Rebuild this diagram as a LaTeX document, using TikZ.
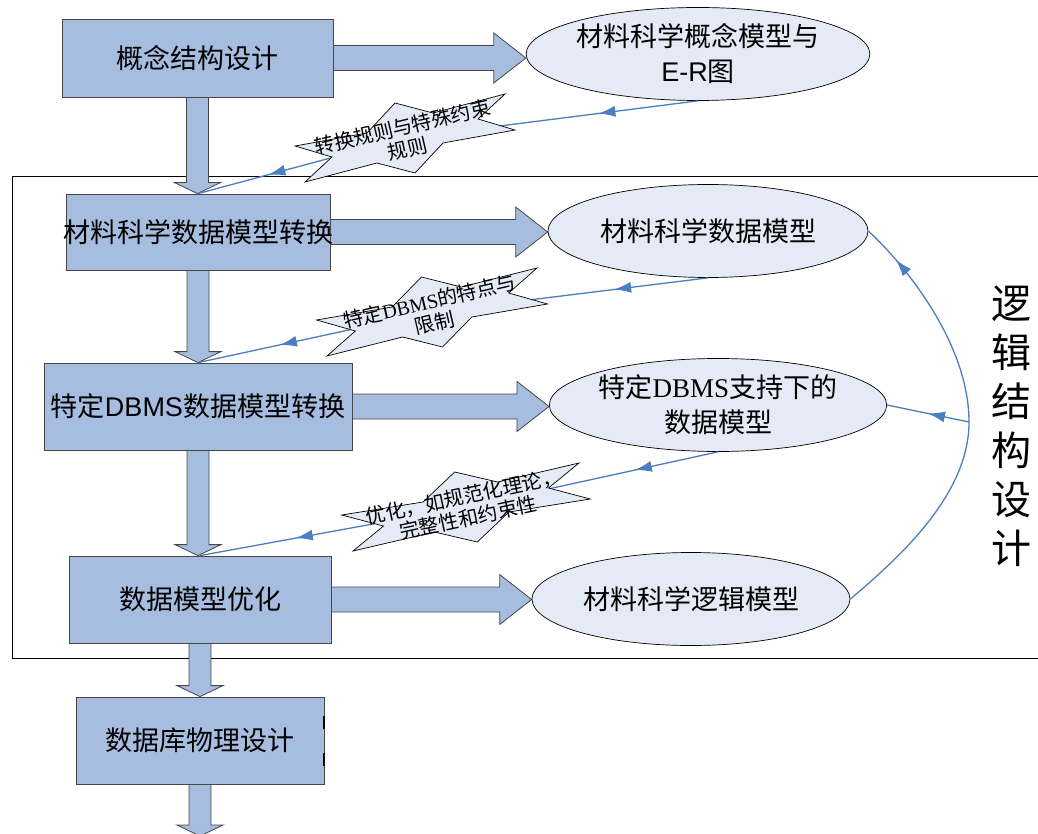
\documentclass[tikz,border=0pt]{standalone}
\usepackage{fontspec}
\setmainfont{Noto Sans CJK SC}
\newfontfamily\arialfont{Liberation Sans}
\newfontfamily\romanfont{Liberation Serif}
\usetikzlibrary{shapes.geometric, arrows.meta, calc, backgrounds, decorations.markings}
\definecolor{blockblue}{RGB}{167, 189, 224}
\definecolor{blockline}{RGB}{70, 70, 70}
\definecolor{paleblue}{RGB}{228, 235, 246}
\definecolor{linkblue}{RGB}{74, 126, 193}

% fat arrows between the design steps
\newcommand{\rightblock}[2]{%
  \draw[blockarrow] let \p1=#1, \p2=#2 in
    (\x1-2pt,\y1+12.5pt) -- (\x2-32pt,\y1+12.5pt) -- (\x2-32pt,\y1+25pt) -- (\x2,\y1)
    -- (\x2-32pt,\y1-25pt) -- (\x2-32pt,\y1-12.5pt) -- (\x1-2pt,\y1-12.5pt) -- cycle;}
\newcommand{\downblock}[2]{%
  \draw[blockarrow] let \p1=#1, \p2=#2 in
    (\x1-11pt,\y1+2pt) -- (\x1+11pt,\y1+2pt) -- (\x1+11pt,\y2+11pt) -- (\x1+23pt,\y2+11pt)
    -- (\x1,\y2) -- (\x1-23pt,\y2+11pt) -- (\x1-11pt,\y2+11pt) -- cycle;}

\tikzset{
  burst/.pic={
    \draw[burstfill] (-110,8) -- (-38,-5) -- (-10,-35) -- (28,-25) -- (100,-44) -- (73,-19)
      -- (110,-8) -- (38,5) -- (10,35) -- (-28,25) -- (-100,44) -- (-73,19) -- cycle;
  }
}

\begin{document}
\begin{tikzpicture}[
    x=1pt, y=-1pt,
    blockbox/.style={draw=blockline, fill=blockblue, line width=0.8pt, inner sep=0pt, font=\fontsize{27}{32}\selectfont},
    modelell/.style={ellipse, draw=black, fill=paleblue, line width=0.7pt, minimum width=320, minimum height=93, inner sep=0pt, align=center, font=\fontsize{27}{35}\selectfont},
    blockarrow/.style={draw=blockline, fill=blockblue, line width=0.8pt},
    burstfill/.style={draw=black, fill=paleblue, line width=0.7pt},
    bursttext/.style={font=\fontsize{20}{22}\selectfont, align=center},
    framebox/.style={draw=black, line width=1pt},
    link/.style={linkblue, line width=1.3pt},
    midarrow/.style={postaction={decorate}, decoration={markings, mark=at position #1 with {\arrow{Latex[length=17pt,width=11pt]}}}}
]
\useasboundingbox (0,0) rectangle (1038,834);

% Design steps
\node (b1) [blockbox, minimum width=271, minimum height=78] at (197.5,58) {概念结构设计};
\node (b2) [blockbox, minimum width=264, minimum height=76] at (198,232) {\makebox[0pt]{材料科学数据模型转换}};
\node (b3) [blockbox, minimum width=308, minimum height=87] at (198,406.5) {\makebox[0pt]{特定{\arialfont DBMS}数据模型转换}};
\node (b4) [blockbox, minimum width=262, minimum height=87] at (200,599.5) {数据模型优化};
\node (b5) [blockbox, minimum width=248, minimum height=87] at (200,740.5) {数据库物理设计};
\coordinate (exit) at (200,836);
\draw[line width=2pt] ($(b5.east)+(0,-25)$) -- ($(b5.east)+(0,-12)$);
\draw[line width=2pt] ($(b5.east)+(0,12)$) -- ($(b5.east)+(0,25)$);

% Models
\node (e1) [modelell] at (698,54) {材料科学概念模型与\\{\arialfont E-R}图};
\node (e2) [modelell] at (708,231) {材料科学数据模型};
\node (e3) [modelell] at (718,405) {特定{\romanfont DBMS}支持下的\\数据模型};
\node (e4) [modelell, minimum width=318] at (691,599) {材料科学逻辑模型};

\node (vtitle) [font=\fontsize{40}{49}\selectfont, align=center] at (1011,426) {逻\\辑\\结\\构\\设\\计};

% Frame and fat arrows
\begin{scope}[on background layer]
\draw[framebox] (12,177) rectangle (1046,658);
\rightblock{(b1.east)}{(e1.west)}
\rightblock{(b2.east)}{(e2.west)}
\rightblock{(b3.east)}{(e3.west)}
\rightblock{(b4.east)}{(e4.west)}
\downblock{(b1.south)}{(b2.north)}
\downblock{(b2.south)}{(b3.north)}
\downblock{(b3.south)}{(b4.north)}
\downblock{(b4.south)}{(b5.north)}
\downblock{(b5.south)}{(exit)}
\end{scope}

% Feedback links
\coordinate (s1c) at (405,138);
\coordinate (s2c) at (432,312);
\coordinate (s3c) at (466,507);
\coordinate (junc) at (969,422);

\draw[link, midarrow=0.34] (e1.south) -- (s1c);
\draw[link, midarrow=0.66] (s1c) -- (b2.north);
\draw[link, midarrow=0.34] (e2.south) -- (s2c);
\draw[link, midarrow=0.65] (s2c) -- (b3.north);
\draw[link, midarrow=0.33] (e3.south) -- (s3c);
\draw[link, midarrow=0.64] (s3c) -- (b4.north);

\draw[link, midarrow=0.91] (e4.east) .. controls (905,553) and (969,492) .. (junc)
  .. controls (969,342) and (903,263) .. (e2.east);
\draw[link, midarrow=0.5] (junc) -- (e3.east);

% Rule bursts
\pic at (s1c) {burst};
\node (s1) [bursttext, rotate=13] at (s1c) {转换规则与特殊约束\\规则};
\pic[xscale=1.05] at (s2c) {burst};
\node (s2) [bursttext, rotate=13] at (s2c) {特定{\romanfont DBMS}的特点与\\限制};
\pic[xscale=1.13] at (s3c) {burst};
\node (s3) [bursttext, rotate=12] at (s3c) {优化，如规范化理论，\\完整性和约束性};

\end{tikzpicture}
\end{document}
